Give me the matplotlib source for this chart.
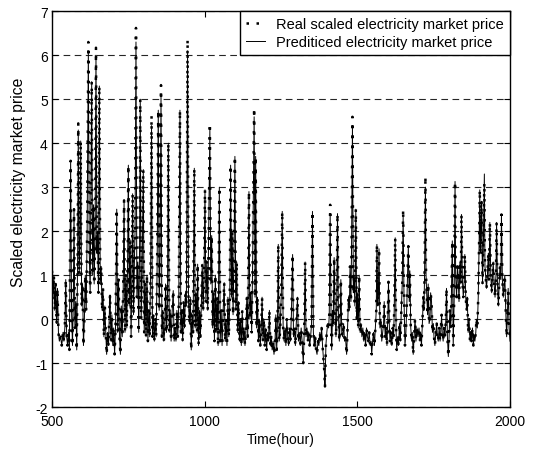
import numpy as np
import matplotlib.pyplot as plt

plt.rcParams['font.family'] = ['Liberation Sans', 'DejaVu Sans']
plt.rcParams['font.size'] = 10
plt.rcParams['axes.unicode_minus'] = False

# hour / real scaled price (peaks and troughs)
hours = [
    500, 503, 506, 509, 512, 515, 518, 521, 524, 528, 532, 536, 539, 542, 545, 548, 551, 554, 557, 561,
    564, 567, 570, 572, 575, 578, 581, 584, 586, 589, 592, 594, 597, 600, 603, 606, 609, 612, 615, 619,
    622, 625, 627, 630, 633, 636, 638, 641, 644, 647, 649, 652, 655, 658, 661, 664, 667, 670, 673, 676,
    679, 682, 685, 688, 690, 693, 696, 699, 702, 705, 708, 712, 715, 718, 721, 724, 727, 730, 733, 736,
    739, 742, 745, 748, 750, 753, 756, 759, 762, 764, 767, 770, 772, 775, 778, 781, 784, 787, 789, 792,
    795, 799, 802, 805, 808, 811, 814, 817, 820, 823, 826, 829, 832, 835, 838, 841, 844, 848, 851, 854,
    857, 860, 863, 866, 869, 872, 875, 878, 881, 884, 887, 890, 893, 897, 900, 903, 906, 909, 912, 915,
    919, 922, 925, 928, 931, 934, 937, 940, 944, 947, 950, 953, 956, 959, 962, 966, 969, 972, 975, 977,
    980, 983, 986, 989, 992, 995, 998, 1001, 1004, 1007, 1010, 1013, 1017, 1020, 1023, 1026, 1029, 1032, 1035, 1038,
    1041, 1044, 1048, 1051, 1054, 1057, 1060, 1064, 1067, 1070, 1073, 1076, 1079, 1082, 1085, 1088, 1090, 1093, 1096, 1099,
    1102, 1105, 1108, 1111, 1114, 1117, 1120, 1123, 1126, 1129, 1132, 1135, 1138, 1141, 1145, 1148, 1151, 1154, 1157, 1162,
    1165, 1167, 1170, 1173, 1176, 1179, 1182, 1185, 1188, 1191, 1194, 1197, 1200, 1203, 1206, 1209, 1212, 1215, 1218, 1221,
    1224, 1227, 1230, 1233, 1236, 1239, 1241, 1244, 1247, 1251, 1254, 1257, 1260, 1263, 1266, 1269, 1272, 1275, 1278, 1281,
    1284, 1288, 1291, 1294, 1297, 1300, 1304, 1307, 1310, 1313, 1316, 1319, 1323, 1326, 1329, 1332, 1335, 1338, 1341, 1344,
    1347, 1350, 1353, 1356, 1359, 1362, 1365, 1368, 1371, 1374, 1377, 1380, 1383, 1386, 1389, 1392, 1394, 1397, 1400, 1403,
    1406, 1408, 1411, 1414, 1416, 1419, 1421, 1424, 1427, 1430, 1432, 1435, 1438, 1441, 1444, 1446, 1449, 1452, 1455, 1458,
    1461, 1465, 1468, 1471, 1474, 1476, 1479, 1481, 1484, 1487, 1489, 1492, 1495, 1498, 1500, 1503, 1506, 1509, 1512, 1515,
    1518, 1521, 1524, 1527, 1530, 1533, 1536, 1539, 1542, 1545, 1547, 1550, 1553, 1556, 1559, 1562, 1564, 1567, 1569, 1571,
    1574, 1577, 1580, 1583, 1586, 1588, 1591, 1594, 1597, 1600, 1602, 1605, 1607, 1610, 1613, 1616, 1619, 1621, 1624, 1627,
    1629, 1632, 1635, 1638, 1641, 1644, 1647, 1650, 1653, 1656, 1659, 1662, 1664, 1667, 1670, 1672, 1675, 1678, 1680, 1683,
    1686, 1689, 1692, 1695, 1699, 1702, 1705, 1707, 1710, 1713, 1716, 1718, 1720, 1723, 1725, 1727, 1730, 1732, 1735, 1738,
    1740, 1743, 1746, 1749, 1751, 1754, 1757, 1760, 1762, 1765, 1768, 1771, 1773, 1776, 1778, 1781, 1784, 1787, 1790, 1792,
    1795, 1798, 1801, 1803, 1806, 1808, 1811, 1814, 1817, 1820, 1822, 1825, 1828, 1830, 1833, 1836, 1839, 1841, 1844, 1847,
    1850, 1852, 1855, 1858, 1860, 1863, 1866, 1869, 1871, 1874, 1877, 1880, 1882, 1885, 1888, 1890, 1893, 1896, 1899, 1901,
    1903, 1905, 1907, 1910, 1913, 1916, 1918, 1920, 1923, 1926, 1929, 1931, 1934, 1937, 1940, 1942, 1945, 1948, 1951, 1954,
    1956, 1959, 1962, 1964, 1967, 1970, 1972, 1975, 1978, 1980, 1983, 1986, 1989, 1991, 1994, 1997, 2000,
]
real_price = [
    1.1, 0.5, 1.0, 0.2, 0.8, -0.1, 0.7, -0.3, -0.5, -0.4, -0.6, -0.3, -0.5, -0.2, 0.9, -0.4, -0.6, -0.3, -0.7, 3.6,
    0.2, -0.6, 0.5, 2.5, -0.2, 0.4, -0.7, 1.5, 4.45, 1.0, 2.0, 4.05, 0.3, 0.8, -0.6, 0.0, 1.0, 0.2, 2.0, 6.3,
    1.5, 0.6, 2.5, 5.4, 1.0, 2.6, 0.8, 1.8, 6.17, 1.5, 2.0, 0.6, 5.3, 0.8, 1.2, 0.2, 0.7, -0.4, 0.3, -0.3,
    -0.8, -0.3, -0.6, 0.2, 0.55, -0.5, 0.1, -0.6, -0.2, -0.8, -0.2, 2.5, -0.3, 0.9, -0.4, -0.8, 0.3, -0.4, 0.6, 2.7,
    -0.3, 1.0, -0.2, 1.6, 3.5, 0.3, 1.8, -0.4, 1.2, 2.85, 0.1, 1.4, 2.0, 6.62, 0.5, 1.3, -0.3, 1.8, 5.0, 0.0,
    1.0, 3.4, -0.3, 0.8, -0.4, 1.0, -0.5, 0.2, -0.4, 1.2, 4.63, -0.4, 0.1, -0.5, 0.0, -0.4, 1.0, 4.75, 0.2, 1.5,
    5.32, -0.4, 0.2, -0.5, -0.3, 0.8, -0.3, 0.3, 4.0, -0.3, 0.2, -0.5, 0.1, 0.65, -0.5, -0.2, -0.5, 0.2, -0.4, 0.3,
    4.75, -0.3, 0.2, -0.5, 0.4, -0.2, 0.6, 0.3, 6.36, 0.4, -0.1, 0.5, -0.7, 0.1, -0.3, 3.43, -0.2, 0.6, -0.3, 1.25,
    -0.6, 0.2, -0.4, 0.3, 1.25, 0.2, 1.0, 2.94, 0.4, 1.3, 0.2, 1.9, 4.45, 0.8, 1.9, -0.2, 0.6, -0.5, 1.0, -0.3,
    0.5, -0.6, 3.0, -0.5, 0.2, -0.6, 0.1, 0.83, -0.5, 0.0, -0.6, 0.5, -0.4, 0.3, 3.5, 0.5, 2.0, 0.1, 1.4, 3.7,
    0.2, 1.3, -0.3, 0.4, -0.5, 0.0, -0.6, 0.2, -0.5, -0.2, -0.6, -0.3, 0.5, -0.4, 2.9, 0.0, 0.6, -0.3, 1.2, 4.8,
    0.5, 3.7, -0.2, 0.5, -0.5, 0.0, -0.6, -0.3, 0.5, -0.5, 0.0, -0.6, -0.2, -0.7, -0.3, -0.5, 0.2, -0.6, -0.4, -0.7,
    -0.5, -0.8, -0.6, 0.1, -0.7, 0.2, 1.7, -0.5, -0.3, 0.6, 2.45, -0.2, -0.5, -0.2, -0.6, 0.0, -0.4, -0.6, -0.2, -0.5,
    0.1, 1.47, -0.4, -0.2, -0.6, -0.1, 0.5, -0.5, -0.3, -0.6, -0.2, -0.5, -1.0, -0.3, 1.3, -0.4, -0.2, -0.5, -0.3, -0.6,
    -0.4, -0.1, 2.45, -0.3, -0.6, -0.4, -0.7, -0.8, -0.5, -0.6, -0.3, -0.5, -0.2, -0.6, -0.9, -1.2, -1.55, -0.6, -0.3, -0.1,
    -0.2, 0.1, 2.6, 0.0, -0.7, 0.2, -0.1, 1.4, 0.2, -0.4, 0.0, 2.4, 0.1, -0.5, 0.0, 0.9, -0.3, -0.4, -0.1, -0.5,
    -0.4, -0.8, -0.2, 0.5, 0.2, 1.2, 0.4, 1.6, 4.6, 0.6, 1.0, 0.3, 2.5, 0.0, 0.6, -0.2, 1.0, -0.3, -0.1, -0.4,
    -0.2, -0.5, -0.3, -0.6, -0.2, -0.4, -0.5, -0.3, -0.6, -0.5, -0.8, -0.5, -0.3, -0.6, -0.2, 0.2, 1.7, 0.3, 0.6, 1.6,
    -0.2, 0.0, -0.5, -0.3, -0.1, 0.4, -0.4, -0.2, -0.6, 0.1, 0.85, -0.2, -0.5, -0.3, -0.6, -0.2, -0.4, 0.3, 1.85, -0.3,
    -0.7, -0.4, -0.6, -0.1, -0.5, 0.2, 0.8, 2.5, 0.4, -0.6, -0.3, 0.3, 0.9, 1.66, 0.4, 1.1, -0.2, -0.5, -0.3, -0.8,
    -0.4, 0.0, -0.5, -0.2, -0.4, -0.2, -0.5, -0.3, -0.6, -0.1, 0.5, 0.2, 0.9, 3.25, 1.0, 0.6, 0.1, 0.8, -0.1, 0.0,
    0.6, 0.4, -0.3, -0.1, -0.4, -0.6, -0.3, -0.1, -0.4, -0.5, -0.2, -0.5, -0.3, 0.1, -0.3, -0.5, -0.2, -0.4, 0.0, 0.7,
    -0.4, -0.85, -0.3, 0.2, -0.2, 0.5, 1.78, -0.6, 0.4, 3.13, 1.0, 0.5, 1.2, 1.0, 0.4, 1.3, 0.8, 2.38, 0.9, 0.5,
    0.9, 1.47, 0.5, 0.2, 0.5, -0.3, 0.0, -0.5, -0.3, -0.5, -0.2, -0.6, -0.4, -0.5, -0.3, 0.0, -0.2, 0.5, 1.8, 2.94,
    1.5, 2.0, 2.68, 0.8, 1.8, 3.1, 1.2, 1.0, 0.7, 1.0, 1.5, 0.9, 2.2, 1.0, 0.6, 0.9, 1.3, 0.8, 0.5, 1.0,
    2.2, 0.8, 0.3, 0.7, 1.2, 0.9, 2.38, 0.9, 0.5, 0.7, 1.0, 0.2, -0.4, 0.0, 0.7, -0.2, -0.5,
]

# the predicted curve follows the real one except at these peaks (solid line tops)
pred_peak_hours = [586, 619, 644, 775, 826, 857, 944, 1017, 1162, 1411, 1484, 1650, 1723, 1916]
pred_peak_vals = [4.3, 6.1, 6.0, 6.3, 4.4, 5.1, 6.1, 4.3, 4.6, 2.4, 4.4, 2.35, 3.0, 3.3]

hours = np.array(hours)
real_price = np.array(real_price)
pred_price = real_price.copy()
for h, v in zip(pred_peak_hours, pred_peak_vals):
    pred_price[hours == h] = v

fig = plt.figure(figsize=(5.39, 4.52), dpi=100)
ax = fig.add_axes([0.0965, 0.097, 0.8497, 0.876])

ax.plot(hours, real_price, color='black', lw=1.8, linestyle=(0, (1.0, 3.0)),
        label='Real scaled electricity market price')
ax.plot(hours, pred_price, color='black', lw=0.7,
        label='Prediticed electricity market price')

ax.set_xlim(500, 2000)
ax.set_ylim(-2, 7)
ax.set_xticks([500, 1000, 1500, 2000])
ax.set_yticks(range(-2, 8))
ax.yaxis.grid(True, color='0.15', lw=0.8, linestyle=(0, (6, 4)))
ax.set_axisbelow(True)
ax.tick_params(direction='in', top=True, right=True, length=4, width=0.8)
ax.tick_params(axis='x', pad=5)
ax.tick_params(axis='y', pad=3)
for s in ax.spines.values():
    s.set_linewidth(1.0)

ax.set_xlabel('Time(hour)', labelpad=3)
ax.set_ylabel('Scaled electricity market price', fontsize=11.3)
ax.yaxis.set_label_coords(-0.057, 0.57)

leg = ax.legend(loc='upper right', borderaxespad=0, fancybox=False,
                framealpha=1, edgecolor='black', fontsize=10.5,
                handlelength=1.3, handletextpad=0.8,
                borderpad=0.4, labelspacing=0.3)
leg.get_frame().set_linewidth(1.0)

fig.savefig('out.png', dpi=100)
